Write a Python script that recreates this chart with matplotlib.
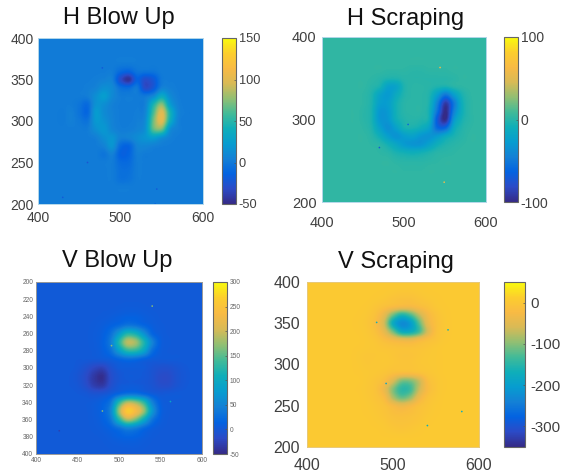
import numpy as np
import matplotlib
matplotlib.use('Agg')
import matplotlib.pyplot as plt
from matplotlib.colors import LinearSegmentedColormap

plt.rcParams['axes.unicode_minus'] = False

# grids, one column every 10 from 400 to 600, rows top to bottom
h_blow = [
    [2, 2, 2, 2, 2, 2, 2, 2, 2, 2, 2, 2, 2, 2, 2, 2, 2, 2, 2, 2, 2],
    [2, 2, 2, 2, 2, 2, 2, 2, 2, 2, 2, 2, 2, 2, 2, 2, 2, 2, 2, 2, 2],
    [2, 2, 2, 2, 2, 2, 2, 2, 2, 2, 2, 2, 2, 2, 2, 2, 2, 2, 2, 2, 2],
    [2, 2, 2, 2, 2, 2, 2, 2, 2, 2, 2, 2, 2, 2, 2, 2, 2, 2, 2, 2, 2],
    [2, 2, 2, 2, 2, 2, 2, 2, 2, 2, -8, -12, -2, -2, -2, 2, 2, 2, 2, 2, 2],
    [2, 2, 2, 2, 2, 2, 2, 3, 5, 4, -28, -45, -14, -28, -20, 0, 2, 2, 2, 2, 2],
    [2, 2, 2, 2, 2, 2, 3, 6, 14, 10, -5, -8, 0, -30, -20, 5, 4, 2, 2, 2, 2],
    [2, 2, 2, 2, 2, 2, 3, 14, 24, 10, 2, 2, 2, 0, 10, 35, 12, 3, 2, 2, 2],
    [2, 2, 2, 2, 2, -2, -8, 16, 14, 5, 2, 2, 2, 5, 45, 75, 25, 5, 2, 2, 2],
    [2, 2, 2, 1, 4, -3, -10, 22, 12, 5, 2, 2, 3, 8, 60, 100, 45, 8, 2, 2, 2],
    [2, 2, 2, 1, 4, 0, -3, 20, 16, 6, 2, 2, 4, 12, 70, 100, 40, 6, 2, 2, 2],
    [2, 2, 2, 2, 2, 2, 2, 14, 20, 8, 3, 3, 6, 15, 65, 70, 15, 4, 2, 2, 2],
    [2, 2, 2, 2, 2, 2, 2, 4, 14, 18, 5, 6, 12, 18, 25, 15, 5, 2, 2, 2, 2],
    [2, 2, 2, 2, 2, 2, 2, 2, 6, 18, -8, -12, 6, 8, 5, 3, 2, 2, 2, 2, 2],
    [2, 2, 2, 2, 2, 2, 2, 2, -2, 5, -14, -12, 3, 2, 2, 2, 2, 2, 2, 2, 2],
    [2, 2, 2, 2, 2, 2, 2, 2, 2, 2, -8, -8, 2, 2, 2, 2, 2, 2, 2, 2, 2],
    [2, 2, 2, 2, 2, 2, 2, 2, 2, 2, -5, -5, 2, 2, 2, 2, 2, 2, 2, 2, 2],
    [2, 2, 2, 2, 2, 2, 2, 2, 2, 2, -4, -3, 2, 2, 2, 2, 2, 2, 2, 2, 2],
    [2, 2, 2, 2, 2, 2, 2, 2, 2, 2, 2, 2, 2, 2, 2, 2, 2, 2, 2, 2, 2],
    [2, 2, 2, 2, 2, 2, 2, 2, 2, 2, 2, 2, 2, 2, 2, 2, 2, 2, 2, 2, 2],
    [2, 2, 2, 2, 2, 2, 2, 2, 2, 2, 2, 2, 2, 2, 2, 2, 2, 2, 2, 2, 2],
]
h_scrape = [
    [3, 3, 3, 3, 3, 3, 3, 3, 3, 3, 3, 3, 3, 3, 3, 3, 3, 3, 3, 3, 3],
    [3, 3, 3, 3, 3, 3, 3, 3, 3, 3, 3, 3, 3, 3, 3, 3, 3, 3, 3, 3, 3],
    [3, 3, 3, 3, 3, 3, 3, 3, 3, 3, 3, 3, 3, 3, 3, 3, 3, 3, 3, 3, 3],
    [3, 3, 3, 3, 3, 3, 3, 3, 3, 3, 3, 3, 3, 3, 3, 3, 3, 3, 3, 3, 3],
    [3, 3, 3, 3, 3, 3, 3, 3, 2, 2, 2, 1, 1, 2, 2, 2, 3, 3, 3, 3, 3],
    [3, 3, 3, 3, 3, 3, 2, 0, -3, -3, 0, 0, 0, 0, 0, 0, 1, 3, 3, 3, 3],
    [3, 3, 3, 3, 3, 3, 0, -5, -22, -20, -3, 1, 1, 0, -3, -5, 0, 2, 3, 3, 3],
    [3, 3, 3, 3, 3, 2, -3, -20, -28, -14, -2, 1, 1, -3, -25, -50, -25, -5, 2, 3, 3],
    [3, 3, 3, 3, 3, 2, -4, -24, -25, -8, 0, 1, 1, -5, -45, -90, -50, -10, 1, 3, 3],
    [3, 3, 3, 3, 3, 1, -5, -30, -28, -8, 0, 1, 1, -8, -55, -100, -45, -10, 1, 3, 3],
    [3, 3, 3, 3, 3, 1, -5, -30, -30, -10, -2, 0, -2, -10, -70, -98, -30, -6, 1, 3, 3],
    [3, 3, 3, 3, 3, 2, -3, -22, -35, -22, -6, -5, -10, -22, -60, -60, -15, -2, 2, 3, 3],
    [3, 3, 3, 3, 3, 3, 0, -10, -25, -33, -25, -22, -30, -33, -28, -15, -5, 0, 3, 3, 3],
    [3, 3, 3, 3, 3, 3, 2, 0, -8, -18, -28, -32, -32, -22, -10, -3, 0, 2, 3, 3, 3],
    [3, 3, 3, 3, 3, 3, 3, 2, 0, -5, -8, -10, -8, -4, 0, 1, 2, 3, 3, 3, 3],
    [3, 3, 3, 3, 3, 3, 3, 3, 3, 1, 0, 0, 0, 1, 2, 3, 3, 3, 3, 3, 3],
    [3, 3, 3, 3, 3, 3, 3, 3, 3, 3, 2, 2, 2, 3, 3, 3, 3, 3, 3, 3, 3],
    [3, 3, 3, 3, 3, 3, 3, 3, 3, 3, 3, 3, 3, 3, 3, 3, 3, 3, 3, 3, 3],
    [3, 3, 3, 3, 3, 3, 3, 3, 3, 3, 3, 3, 3, 3, 3, 3, 3, 3, 3, 3, 3],
    [3, 3, 3, 3, 3, 3, 3, 3, 3, 3, 3, 3, 3, 3, 3, 3, 3, 3, 3, 3, 3],
    [3, 3, 3, 3, 3, 3, 3, 3, 3, 3, 3, 3, 3, 3, 3, 3, 3, 3, 3, 3, 3],
]
# this one has y running 200 to 400 downwards
v_blow = [
    [3, 3, 3, 3, 3, 3, 3, 3, 3, 3, 3, 3, 3, 3, 3, 3, 3, 3, 3, 3, 3],
    [3, 3, 3, 3, 3, 3, 3, 3, 3, 3, 3, 3, 3, 3, 3, 3, 3, 3, 3, 3, 3],
    [3, 3, 3, 3, 3, 3, 3, 3, 3, 3, 3, 3, 3, 3, 3, 3, 3, 3, 3, 3, 3],
    [3, 3, 3, 3, 3, 3, 3, 3, 3, 3, 4, 5, 5, 4, 3, 3, 3, 3, 3, 3, 3],
    [3, 3, 3, 3, 3, 3, 3, 3, 4, 6, 9, 12, 12, 8, 5, 3, 3, 3, 3, 3, 3],
    [3, 3, 3, 3, 3, 3, 3, 4, 7, 12, 20, 32, 28, 16, 8, 4, 3, 3, 3, 3, 3],
    [3, 3, 3, 3, 3, 3, 3, 5, 10, 28, 75, 120, 110, 65, 18, 6, 3, 3, 3, 3, 3],
    [3, 3, 3, 3, 3, 3, 3, 5, 12, 40, 120, 190, 180, 120, 50, 10, 4, 3, 3, 3, 3],
    [3, 3, 3, 3, 3, 3, 3, 4, 10, 28, 80, 125, 125, 90, 28, 7, 3, 3, 3, 3, 3],
    [3, 3, 3, 3, 3, 2, 2, 1, 3, 7, 16, 24, 22, 12, 5, 3, 3, 3, 3, 3, 3],
    [3, 3, 3, 3, 3, 0, -8, -20, -25, -8, 3, 5, 5, 3, -3, -8, -8, -3, 1, 3, 3],
    [3, 3, 3, 3, 2, -3, -15, -35, -45, -15, -2, 3, 3, 1, -5, -15, -15, -5, 0, 3, 3],
    [3, 3, 3, 3, 2, -1, -12, -30, -35, -12, 1, 4, 4, 1, -4, -12, -12, -4, 1, 3, 3],
    [3, 3, 3, 3, 3, 2, 0, -5, -3, 4, 18, 30, 30, 18, 6, 1, 2, 3, 3, 3, 3],
    [3, 3, 3, 3, 3, 3, 3, 5, 12, 35, 125, 185, 175, 130, 50, 10, 4, 3, 3, 3, 3],
    [3, 3, 3, 3, 3, 3, 3, 6, 15, 50, 175, 260, 235, 175, 75, 14, 4, 3, 3, 3, 3],
    [3, 3, 3, 3, 3, 3, 3, 5, 12, 35, 120, 185, 160, 100, 35, 9, 3, 3, 3, 3, 3],
    [3, 3, 3, 3, 3, 3, 3, 4, 7, 14, 30, 50, 42, 22, 9, 4, 3, 3, 3, 3, 3],
    [3, 3, 3, 3, 3, 3, 3, 3, 4, 7, 12, 16, 14, 8, 4, 3, 3, 3, 3, 3, 3],
    [3, 3, 3, 3, 3, 3, 3, 3, 3, 4, 5, 6, 6, 4, 3, 3, 3, 3, 3, 3, 3],
    [3, 3, 3, 3, 3, 3, 3, 3, 3, 3, 3, 3, 3, 3, 3, 3, 3, 3, 3, 3, 3],
]
v_scrape = [
    [5, 5, 5, 5, 5, 5, 5, 5, 5, 5, 5, 5, 5, 5, 5, 5, 5, 5, 5, 5, 5],
    [5, 5, 5, 5, 5, 5, 5, 5, 5, 4, 2, 0, 0, 2, 4, 5, 5, 5, 5, 5, 5],
    [5, 5, 5, 5, 5, 5, 5, 5, 3, 0, -6, -10, -10, -5, 0, 3, 5, 5, 5, 5, 5],
    [5, 5, 5, 5, 5, 5, 5, 3, -3, -12, -22, -30, -30, -20, -10, 0, 4, 5, 5, 5, 5],
    [5, 5, 5, 5, 5, 5, 4, 0, -12, -45, -110, -155, -130, -75, -30, -8, 2, 5, 5, 5, 5],
    [5, 5, 5, 5, 5, 5, 3, -2, -18, -65, -175, -225, -205, -125, -45, -12, 1, 5, 5, 5, 5],
    [5, 5, 5, 5, 5, 5, 4, 0, -12, -45, -110, -175, -175, -135, -60, -12, 1, 5, 5, 5, 5],
    [5, 5, 5, 5, 5, 5, 5, 2, -3, -16, -30, -42, -45, -30, -15, -5, 3, 5, 5, 5, 5],
    [5, 5, 5, 5, 5, 5, 4, 2, 0, -3, -6, -8, -8, -6, -2, 2, 5, 5, 5, 5, 5],
    [5, 5, 5, 5, 5, 5, 2, -1, 0, 1, -2, -6, -6, -2, 1, 3, 5, 5, 5, 5, 5],
    [5, 5, 5, 5, 5, 5, 3, 0, 1, 1, -2, -4, -4, -1, 1, 3, 5, 5, 5, 5, 5],
    [5, 5, 5, 5, 5, 5, 4, 2, 0, -4, -12, -16, -16, -10, -3, 2, 5, 5, 5, 5, 5],
    [5, 5, 5, 5, 5, 5, 5, 1, -5, -18, -55, -105, -105, -70, -18, -2, 4, 5, 5, 5, 5],
    [5, 5, 5, 5, 5, 5, 4, 0, -8, -38, -100, -145, -135, -70, -22, -3, 4, 5, 5, 5, 5],
    [5, 5, 5, 5, 5, 5, 5, 1, -5, -22, -80, -115, -95, -40, -10, 0, 5, 5, 5, 5, 5],
    [5, 5, 5, 5, 5, 5, 5, 3, -1, -8, -25, -38, -28, -12, -3, 3, 5, 5, 5, 5, 5],
    [5, 5, 5, 5, 5, 5, 5, 4, 1, -4, -12, -15, -12, -6, 0, 4, 5, 5, 5, 5, 5],
    [5, 5, 5, 5, 5, 5, 5, 5, 3, 0, -6, -8, -6, -2, 3, 5, 5, 5, 5, 5, 5],
    [5, 5, 5, 5, 5, 5, 5, 5, 5, 3, 0, -2, 0, 3, 5, 5, 5, 5, 5, 5, 5],
    [5, 5, 5, 5, 5, 5, 5, 5, 5, 5, 5, 5, 5, 5, 5, 5, 5, 5, 5, 5, 5],
    [5, 5, 5, 5, 5, 5, 5, 5, 5, 5, 5, 5, 5, 5, 5, 5, 5, 5, 5, 5, 5],
]

titles = ['H Blow Up', 'H Scraping', 'V Blow Up', 'V Scraping']
x_ticks = [400, 500, 600]
y_ticks_h_blow = [200, 250, 300, 350, 400]
y_ticks_h_scrape = [200, 300, 400]
y_ticks_v_blow = list(range(200, 401, 20))
x_ticks_v_blow = [400, 450, 500, 550, 600]
y_ticks_v_scrape = [200, 250, 300, 350, 400]
cb_ticks_h_blow = [-50, 0, 50, 100, 150]
cb_ticks_h_scrape = [-100, 0, 100]
cb_ticks_v_blow = [-50, 0, 50, 100, 150, 200, 250, 300]
cb_ticks_v_scrape = [-300, -200, -100, 0]

# odd bright or dark pixels
specks_v_blow = ([540, 491, 480, 562, 428], [228, 274, 350, 339, 373], [170, 170, 170, 90, -30])
specks_v_scrape = ([481, 492, 564, 580, 540], [351, 277, 342, 243, 226], [-170, -190, -160, -170, -170])
specks_h_blow = ([478, 460, 544, 430, 542], [364, 250, 218, 208, 200], [-20, -25, -20, -20, -15])
specks_h_scrape = ([549, 544, 505, 470], [224, 363, 294, 266], [55, 60, -60, -70])

parula = LinearSegmentedColormap.from_list('parula', [
    (0.2081, 0.1663, 0.5292), (0.1707, 0.2919, 0.7792), (0.0117, 0.3875, 0.8820),
    (0.0779, 0.5040, 0.8384), (0.0265, 0.6137, 0.8135), (0.0590, 0.6838, 0.7254),
    (0.2586, 0.7317, 0.5954), (0.5709, 0.7485, 0.4494), (0.8507, 0.7299, 0.3360),
    (0.9739, 0.7314, 0.2666), (0.9880, 0.8066, 0.1794), (0.9763, 0.9831, 0.0538)])

W, H = 563, 476
SANS = ['Liberation Sans', 'DejaVu Sans']
fig = plt.figure(figsize=(W / 100, H / 100), dpi=100)


def box(x0, y0, x1, y1):
    # pixel box, y from the top
    return [x0 / W, 1 - y1 / H, (x1 - x0) / W, (y1 - y0) / H]


def panel(grid, title, title_xy, ax_px, cb_px, clim, yt, xt, cbt, specks=None, flip=False,
          size=10, cb_size=9.2, xpad=5, ypad=3, cb_pad=2, color='#404040', spine='#b5d8ea'):
    ax = fig.add_axes(box(*ax_px))
    ext = (395, 605, 405, 195) if flip else (395, 605, 195, 405)
    im = ax.imshow(np.array(grid, dtype=float), cmap=parula, vmin=clim[0], vmax=clim[1],
                   extent=ext, aspect='auto', interpolation='catrom',
                   interpolation_stage='data')
    if specks is not None:
        ax.scatter(specks[0], specks[1], c=specks[2], cmap=parula, vmin=clim[0], vmax=clim[1],
                   s=1.5, linewidths=0, zorder=3)
    ax.set_xlim(400, 600)
    ax.set_ylim((400, 200) if flip else (200, 400))
    ax.set_xticks(xt)
    ax.set_yticks(yt)
    ax.tick_params(axis='x', direction='in', length=0, pad=xpad, labelsize=size, labelcolor=color)
    ax.tick_params(axis='y', direction='in', length=0, pad=ypad, labelsize=size, labelcolor=color)
    for lab in ax.get_xticklabels() + ax.get_yticklabels():
        lab.set_family(SANS)
    for s in ax.spines.values():
        s.set_color(spine)
        s.set_linewidth(0.7)

    cax = fig.add_axes(box(*cb_px))
    cb = fig.colorbar(im, cax=cax)
    cb.set_ticks(cbt)
    cb.ax.tick_params(direction='in', length=1.5, width=0.5, color='#555555', pad=cb_pad,
                      labelsize=cb_size, labelcolor=color)
    for lab in cb.ax.get_yticklabels():
        lab.set_family(SANS)
    cb.outline.set_edgecolor('#666666')
    cb.outline.set_linewidth(0.8)

    fig.text(title_xy[0] / W, 1 - title_xy[1] / H, title, ha='center', va='baseline',
             fontsize=17, family=SANS, color='#111111')
    return ax


panel(h_blow, titles[0], (119, 24), (38, 38, 203, 204), (222, 38, 236, 204), (-50, 150),
      y_ticks_h_blow, x_ticks, cb_ticks_h_blow, specks_h_blow)
panel(h_scrape, titles[1], (406, 25), (322, 37, 486, 202), (504, 37, 518, 202), (-100, 100),
      y_ticks_h_scrape, x_ticks, cb_ticks_h_scrape, specks_h_scrape, size=10.5, cb_size=10,
      xpad=10, ypad=4)
panel(v_blow, titles[2], (117, 267), (36, 282, 202, 454), (213, 282, 227, 454), (-50, 300),
      y_ticks_v_blow, x_ticks_v_blow, cb_ticks_v_blow, specks_v_blow, flip=True, size=4.8,
      cb_size=4.8, xpad=2, ypad=2, color='#666666', spine='#999999')
panel(v_scrape, titles[3], (396, 268), (307, 282, 479, 447), (504, 282, 525, 447), (-350, 50),
      y_ticks_v_scrape, x_ticks, cb_ticks_v_scrape, specks_v_scrape, size=11.5, cb_size=10.8,
      xpad=8, ypad=5, cb_pad=4, spine='#e8c878')

fig.savefig('out.png', dpi=100)
